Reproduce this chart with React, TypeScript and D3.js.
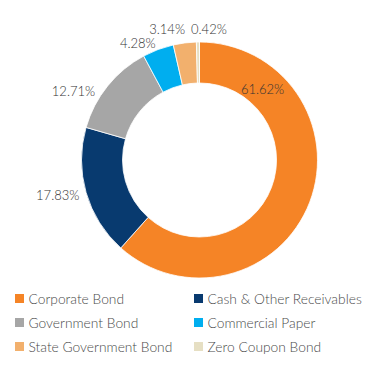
import React from 'react';
import * as d3 from 'd3';

const categories = [
  'Corporate Bond',
  'Cash & Other Receivables',
  'Government Bond',
  'Commercial Paper',
  'State Government Bond',
  'Zero Coupon Bond',
];
const values = [61.62, 17.83, 12.71, 4.28, 3.14, 0.42];
const colors = ['#f58426', '#083a6f', '#a6a6a6', '#00aeef', '#f2b06d', '#e6dfc3'];

// where each percentage sits: angle (deg, clockwise from top; null = slice middle), radius, anchor
const labelSpots: any[] = [
  { angle: 41.6, r: 95, anchor: 'middle' },
  { angle: null, r: 125, anchor: 'end' },
  { angle: 303.4, r: 125, anchor: 'end' },
  { angle: null, r: 125, anchor: 'end' },
  { angle: 353.7, r: 132, anchor: 'end' },
  { angle: 356.3, r: 131, anchor: 'start' },
];

export default function App() {
  const w = 369;
  const h = 390;
  const cx = 199.5;
  const cy = 160;
  const outer = 118;
  const inner = 77;

  const pie = d3.pie<number>().sort(null).value((d) => d);
  const arcs = pie(values);
  const arc = d3.arc<any>().innerRadius(inner).outerRadius(outer);

  const font = 'Lato, sans-serif';

  return (
    <div style={{ position: 'absolute', left: 0, top: 0 }}>
      <svg width={w} height={h} style={{ display: 'block', background: '#fff' }}>
        <g transform={`translate(${cx},${cy})`}>
          {arcs.map((a, i) => (
            <path key={i} d={arc(a) as string} fill={colors[i]} stroke="#fff" strokeWidth={0.8} />
          ))}
          {arcs.map((a, i) => {
            const s = labelSpots[i];
            const ang = s.angle === null ? (a.startAngle + a.endAngle) / 2 : (s.angle * Math.PI) / 180;
            const x = s.r * Math.sin(ang);
            const y = -s.r * Math.cos(ang);
            return (
              <text
                key={'l' + i}
                x={x}
                y={y}
                textAnchor={s.anchor}
                dominantBaseline="central"
                fontFamily={font}
                fontWeight={300}
                fontSize={13}
                fill="#333"
              >
                {values[i].toFixed(2)}%
              </text>
            );
          })}
        </g>
        <g fontFamily={font} fontWeight={300} fontSize={13.8} fill="#4a4a4a">
          {categories.map((c, i) => {
            const col = i % 2;
            const row = Math.floor(i / 2);
            const x = col === 0 ? 15 : 194;
            const y = 298.5 + row * 24;
            return (
              <g key={c} transform={`translate(${x},${y})`}>
                <rect x={0} y={-4.5} width={9} height={9} fill={colors[i]} />
                <text x={13.5} y={0} dominantBaseline="central">
                  {c}
                </text>
              </g>
            );
          })}
        </g>
      </svg>
    </div>
  );
}
